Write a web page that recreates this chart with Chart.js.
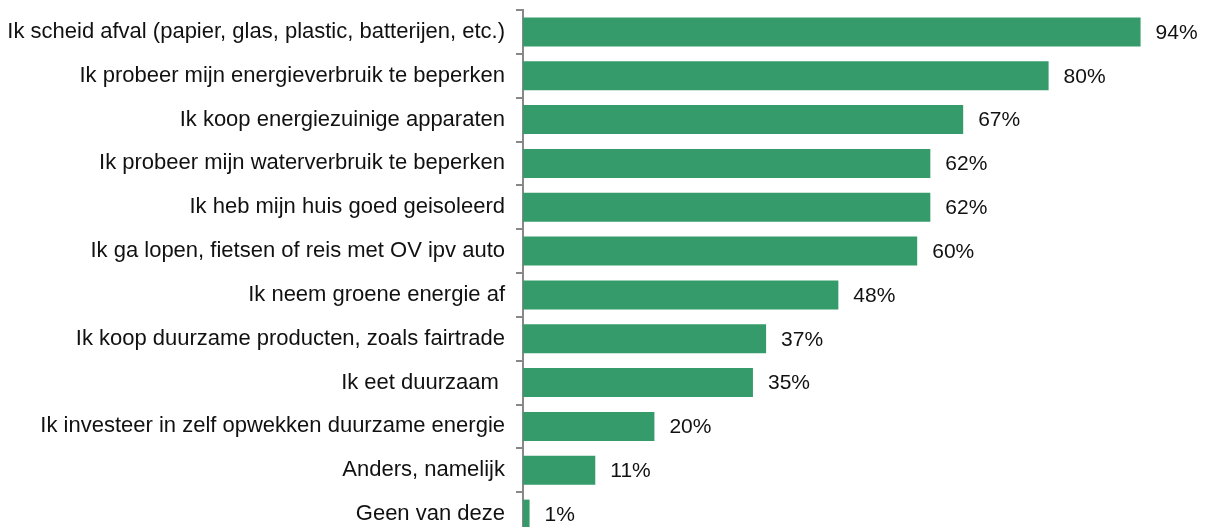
<!DOCTYPE html>
<html>
<head>
<meta charset="utf-8">
<script src="https://cdn.jsdelivr.net/npm/chart.js@4/dist/chart.umd.min.js"></script>
<style>
html,body{margin:0;padding:0;background:#fff;overflow:hidden;}
#wrap{width:1208px;height:527px;overflow:hidden;}
</style>
</head>
<body>
<div id="wrap"><canvas id="c" width="1208" height="540"></canvas></div>
<script>
const categories = [
  "Ik scheid afval (papier, glas, plastic, batterijen, etc.)",
  "Ik probeer mijn energieverbruik te beperken",
  "Ik koop energiezuinige apparaten",
  "Ik probeer mijn waterverbruik te beperken",
  "Ik heb mijn huis goed geisoleerd",
  "Ik ga lopen, fietsen of reis met OV ipv auto",
  "Ik neem groene energie af",
  "Ik koop duurzame producten, zoals fairtrade",
  "Ik eet duurzaam ",
  "Ik investeer in zelf opwekken duurzame energie",
  "Anders, namelijk",
  "Geen van deze"
];
const values = [94, 80, 67, 62, 62, 60, 48, 37, 35, 20, 11, 1];
const valueLabels = ["94%", "80%", "67%", "62%", "62%", "60%", "48%", "37%", "35%", "20%", "11%", "1%"];

const FONT = "'Liberation Sans', Arial, Helvetica, sans-serif";

const labelPlugin = {
  id: 'valueLabels',
  afterDatasetsDraw(chart) {
    const ctx = chart.ctx;
    const meta = chart.getDatasetMeta(0);
    ctx.save();
    ctx.font = "21px " + FONT;
    ctx.fillStyle = "#111";
    ctx.textAlign = "left";
    ctx.textBaseline = "middle";
    meta.data.forEach((bar, i) => {
      ctx.fillText(valueLabels[i], bar.x + 15, bar.y + 1);
    });
    ctx.restore();
  }
};

new Chart(document.getElementById('c'), {
  type: 'bar',
  data: {
    labels: categories,
    datasets: [{
      data: values,
      backgroundColor: '#359B6A',
      borderWidth: 0,
      barPercentage: 0.66,
      categoryPercentage: 1.0
    }]
  },
  options: {
    indexAxis: 'y',
    responsive: false,
    animation: false,
    layout: { padding: { top: 10, bottom: 4, right: 28, left: 0 } },
    plugins: { legend: { display: false }, tooltip: { enabled: false } },
    scales: {
      x: {
        display: false,
        min: 0,
        max: 100
      },
      y: {
        afterFit(scale) {
          scale.width = 523;
          scale.paddingTop = 0;
          scale.paddingBottom = 0;
        },
        grid: {
          display: true,
          offset: true,
          drawOnChartArea: false,
          drawTicks: true,
          tickLength: 7,
          color: '#888',
          lineWidth: 2
        },
        border: { display: true, color: '#888', width: 2 },
        ticks: {
          padding: 11,
          color: '#111',
          font: { family: FONT, size: 22 },
          autoSkip: false
        }
      }
    }
  },
  plugins: [labelPlugin]
});
</script>
</body>
</html>
